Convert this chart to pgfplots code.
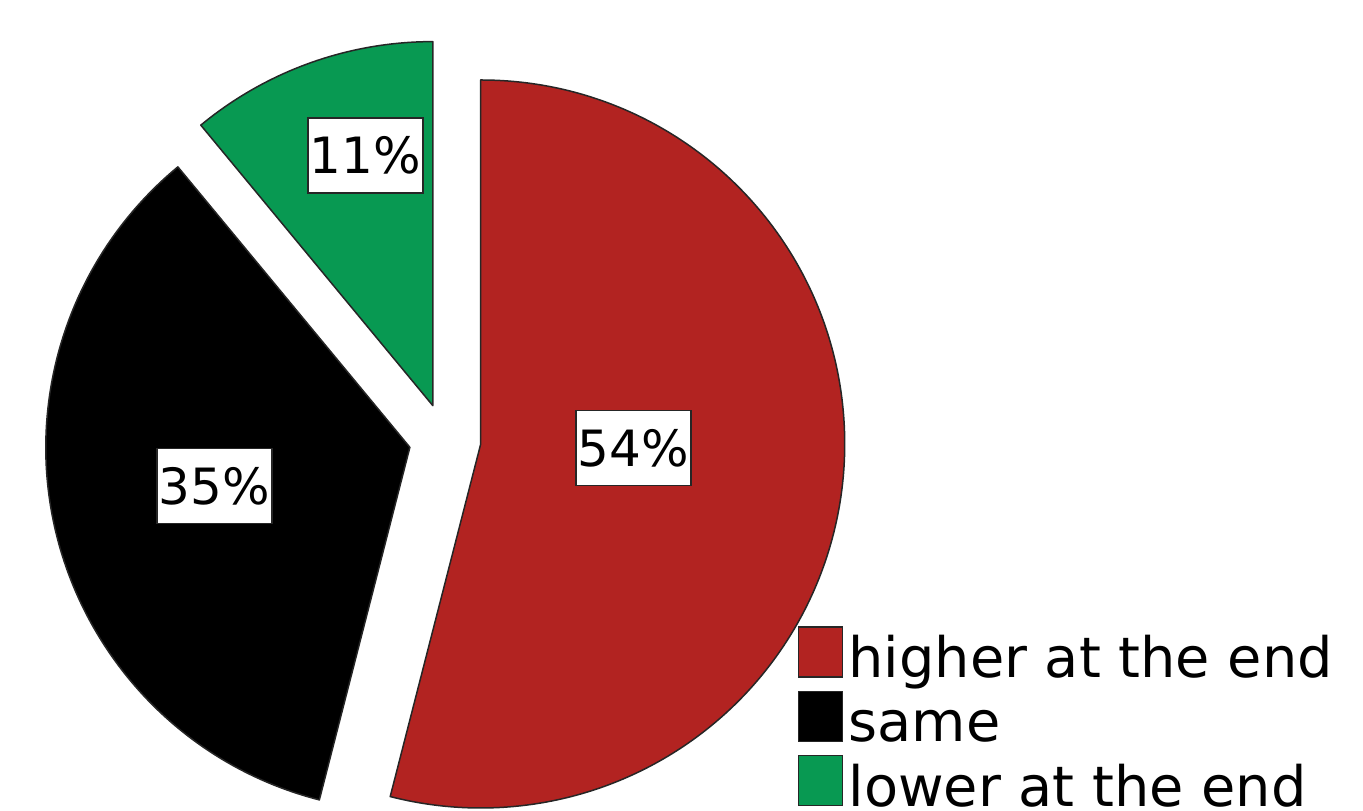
\documentclass[border=0pt]{standalone}
\usepackage{pgfplots}
\pgfplotsset{compat=1.18}
\usepackage{pgfplotstable}
\usepackage{fontspec}
\setmainfont{DejaVu Sans}
\definecolor{pRed}{RGB}{178,35,33}
\definecolor{pGreen}{RGB}{8,153,82}

% pie data (percent)
\pgfplotstableread{
label value
higher 54
same 35
lower 11
}\piedata

% #1 start angle, #2 value, #3 colour
\newcommand\pieslice[3]{%
  \pgfmathsetmacro\endA{#1-3.6*#2}%
  \pgfmathsetmacro\midA{(#1+\endA)/2}%
  \pgfmathsetmacro\cx{445+36*cos(\midA)}%
  \pgfmathsetmacro\cy{371.5+36*sin(\midA)}%
  \edef\tmp{\noexpand\filldraw[fill=#3, draw=black!85, line width=0.6pt, line join=round]
    (axis cs:\cx,\cy) -- ++(#1:145.6pt) arc[start angle=#1, end angle=\endA, radius=145.6pt] -- cycle;}%
  \tmp
  \global\let\lastEnd\endA
}

\begin{document}
\begin{tikzpicture}
\begin{axis}[
  width=545.2pt, height=324.4pt, scale only axis,
  xmin=0, xmax=1363, ymin=0, ymax=811,
  axis lines=none, ticks=none, clip=false,
  legend image code/.code={\filldraw[#1, draw=black!85, line width=0.5pt] (0pt,-5.5pt) rectangle (17.6pt,14.5pt);},
  legend style={at={(axis cs:797,185)}, anchor=north west, draw=none, fill=none,
    inner sep=0pt, row sep=0pt, cells={anchor=west},
    font=\fontsize{22.3}{26}\selectfont,
    nodes={inner xsep=2.3pt, inner ysep=0pt, text height=16.7pt, text depth=5.2pt}},
]
\pgfplotstablegetelem{0}{value}\of\piedata \let\vA\pgfplotsretval
\pgfplotstablegetelem{1}{value}\of\piedata \let\vB\pgfplotsretval
\pgfplotstablegetelem{2}{value}\of\piedata \let\vC\pgfplotsretval
\pieslice{90}{\vA}{pRed}
\pieslice{\lastEnd}{\vB}{black}
\pieslice{\lastEnd}{\vC}{pGreen}

\tikzset{plab/.style={fill=white, draw=black!85, line width=0.6pt, minimum width=46pt, minimum height=30pt, inner sep=0pt, font=\fontsize{20}{24}\selectfont}}
\node[plab] at (axis cs:633.5,363) {\vA\%};
\node[plab] at (axis cs:214.5,325) {\vB\%};
\node[plab] at (axis cs:365.5,655.5) {\vC\%};

\addlegendimage{fill=pRed}
\addlegendentry{higher at the end}
\addlegendimage{fill=black}
\addlegendentry{same}
\addlegendimage{fill=pGreen}
\addlegendentry{lower at the end}
\end{axis}
\pgfresetboundingbox
\useasboundingbox (current axis.south west) rectangle (current axis.north east);
\end{tikzpicture}
\end{document}
